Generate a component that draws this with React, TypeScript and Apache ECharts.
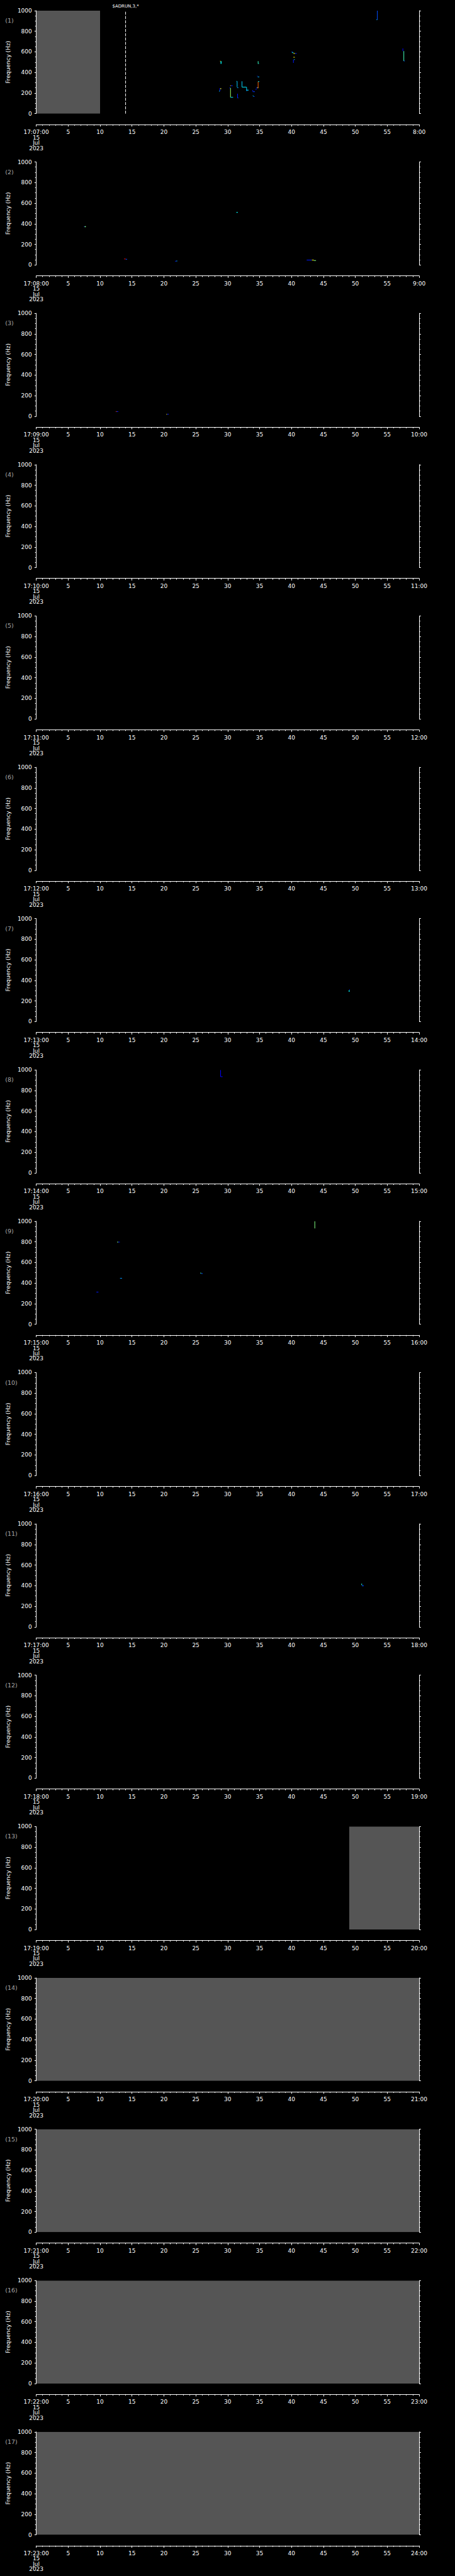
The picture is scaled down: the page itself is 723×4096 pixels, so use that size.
import React, { useEffect, useRef } from 'react';
import * as echarts from 'echarts';

// ---------- scale & layout (reference pixels * S) ----------
const S = 0.705;
const PAGE_W = 723;
const PAGE_H = 4096;
const PLOT_LEFT = 80.7;
const PLOT_W = 864;
const PLOT_TOP = 24;
const PLOT_H = 232.3;
const PANEL_PITCH = 341.3;
const X_AXIS_OFFSET = 24.4;
const FONT = 'DejaVu Sans';

// ---------- axes content ----------
const PANEL_COUNT = 17;
const START_HOUR = 17;
const START_MINUTE = 7;
const DATE_LINES = ['15', 'Jul', '2023'];
const X_MIN = 0;
const X_MAX = 60;
const X_STEP = 5;
const Y_MIN = 0;
const Y_MAX = 1000;
const Y_STEP = 200;
const Y_NAME = 'Frequency (Hz)';

// ---------- data: [tStart s, tEnd s, fLow Hz, fHigh Hz, intensity 0..1] ----------
const panel1Traces = [
  [28.89, 29.03, 483, 509, 0.375],
  [28.85, 28.93, 509, 509, 0.625],
  [28.77, 28.77, 218, 247, 0.15],
  [28.85, 28.98, 238, 247, 0.625],
  [28.65, 28.75, 218, 218, 0.375],
  [30.44, 30.44, 159, 250, 0.53],
  [30.28, 30.44, 250, 250, 0.15],
  [30.44, 30.85, 159, 159, 0.35],
  [30.39, 30.5, 271, 271, 0.625],
  [30.5, 30.78, 271, 271, 0.15],
  [31.48, 31.48, 257, 314, 0.32],
  [31.41, 31.48, 314, 314, 0.32],
  [31.48, 31.67, 252, 252, 0.28],
  [31.55, 31.55, 153, 194, 0.15],
  [31.55, 31.67, 153, 153, 0.2],
  [32.24, 32.24, 257, 314, 0.33],
  [32.24, 32.94, 257, 257, 0.36],
  [32.96, 32.96, 221, 257, 0.33],
  [32.96, 33.28, 228, 228, 0.36],
  [32.96, 33.1, 221, 224, 0.22],
  [33.93, 33.93, 216, 228, 0.15],
  [33.93, 34.26, 213, 213, 0.18],
  [33.98, 34.05, 170, 173, 0.375],
  [34.02, 34.2, 163, 166, 0.2],
  [34.45, 34.45, 231, 243, 0.15],
  [34.55, 34.55, 245, 254, 0.15],
  [34.55, 34.67, 254, 254, 0.2],
  [34.77, 34.77, 248, 311, 0.78],
  [34.77, 34.95, 311, 311, 0.375],
  [34.65, 34.77, 250, 250, 0.625],
  [34.6, 34.7, 364, 364, 0.15],
  [34.7, 34.95, 357, 357, 0.3],
  [34.77, 34.77, 483, 509, 0.44],
  [34.85, 34.9, 486, 486, 0.375],
  [40.0, 40.2, 598, 598, 0.2],
  [40.1, 40.3, 592, 592, 0.4],
  [40.3, 40.55, 585, 585, 0.625],
  [40.55, 40.81, 585, 585, 0.15],
  [40.3, 40.51, 547, 547, 0.625],
  [40.4, 40.51, 525, 525, 0.375],
  [40.3, 40.3, 493, 525, 0.15],
  [53.45, 53.45, 913, 1000, 0.2],
  [53.3, 53.45, 913, 913, 0.3],
  [57.45, 57.5, 607, 633, 0.125],
  [57.6, 57.6, 511, 607, 0.44],
  [57.6, 57.75, 505, 511, 0.2],
];
const panel2Traces = [
  [7.48, 7.6, 372, 372, 0.15],
  [7.6, 7.78, 372, 372, 0.5],
  [7.66, 7.66, 366, 378, 0.5],
  [13.77, 14.0, 58, 58, 0.87],
  [14.0, 14.24, 55, 55, 0.2],
  [21.76, 21.95, 37, 37, 0.15],
  [21.95, 22.1, 38, 38, 0.3],
  [31.35, 31.6, 510, 510, 0.375],
  [42.38, 43.2, 48, 48, 0.15],
  [43.2, 43.5, 47, 47, 0.625],
  [43.5, 43.84, 43, 43, 0.5],
];
const panel3Traces = [
  [12.47, 12.6, 46, 46, 0.8],
  [12.6, 12.86, 46, 46, 0.15],
  [20.38, 20.5, 20, 20, 0.625],
  [20.5, 20.76, 20, 20, 0.15],
];
const panel7Traces = [
  [49.1, 49.19, 305, 309, 0.15],
  [48.97, 49.1, 290, 305, 0.375],
];
const panel8Traces = [
  [28.89, 28.89, 935, 1000, 0.125],
  [28.89, 29.2, 935, 935, 0.125],
];
const panel9Traces = [
  [43.65, 43.65, 931, 1000, 0.5],
  [12.67, 12.85, 798, 798, 0.5],
  [12.85, 13.09, 798, 798, 0.15],
  [25.69, 25.85, 494, 497, 0.44],
  [25.85, 26.08, 493, 493, 0.2],
  [13.13, 13.44, 442, 446, 0.27],
  [9.43, 9.74, 312, 312, 0.15],
];
const panel11Traces = [
  [51.0, 51.08, 405, 420, 0.4],
  [51.08, 51.28, 394, 405, 0.2],
];
const tracesByPanel: Record<number, number[][]> = {
  1: panel1Traces,
  2: panel2Traces,
  3: panel3Traces,
  7: panel7Traces,
  8: panel8Traces,
  9: panel9Traces,
  11: panel11Traces,
};

// no-data blocks: [panel, tStart, tEnd]
const grayBlocks = [
  [1, 0, 10],
  [13, 49, 60],
  [14, 0, 60],
  [15, 0, 60],
  [16, 0, 60],
  [17, 0, 60],
];

// command marker
const markerPanel = 1;
const markerTime = 14;
const markerText = '$ADRUN,3,*';

// ---------- colour map ----------
const JET: [number, number[]][] = [
  [0, [0, 0, 143]],
  [0.125, [0, 0, 255]],
  [0.375, [0, 255, 255]],
  [0.625, [255, 255, 0]],
  [0.875, [255, 0, 0]],
  [1, [128, 0, 0]],
];
function jet(v: number): string {
  const x = Math.max(0, Math.min(1, v));
  for (let i = 1; i < JET.length; i++) {
    const [p1, c1] = JET[i];
    const [p0, c0] = JET[i - 1];
    if (x <= p1) {
      const t = (x - p0) / (p1 - p0);
      const c = c0.map((a, j) => Math.round(a + (c1[j] - a) * t));
      return `rgb(${c[0]},${c[1]},${c[2]})`;
    }
  }
  return 'rgb(128,0,0)';
}

const pad = (n: number) => (n < 10 ? '0' + n : String(n));

function buildOption() {
  const grid: any[] = [];
  const xAxis: any[] = [];
  const yAxis: any[] = [];
  const series: any[] = [];
  const graphic: any[] = [];
  const white = '#ffffff';

  for (let i = 0; i < PANEL_COUNT; i++) {
    const k = i + 1;
    const minute = START_MINUTE + i;
    const top = (PLOT_TOP + i * PANEL_PITCH) * S;
    grid.push({ left: PLOT_LEFT * S, top, width: PLOT_W * S, height: PLOT_H * S });

    xAxis.push({
      gridIndex: i,
      type: 'value',
      min: X_MIN,
      max: X_MAX,
      interval: X_STEP,
      position: 'bottom',
      offset: X_AXIS_OFFSET * S,
      axisLine: { show: true, onZero: false, lineStyle: { color: white, width: 1 } },
      axisTick: { show: true, length: 4.7 * S, lineStyle: { color: white, width: 1 } },
      minorTick: { show: true, splitNumber: 5, length: 2.7 * S, lineStyle: { color: white, width: 1 } },
      splitLine: { show: false },
      minorSplitLine: { show: false },
      axisLabel: {
        color: white,
        fontFamily: FONT,
        fontSize: 9,
        lineHeight: 12 * S,
        margin: 8,
        showMinLabel: true,
        showMaxLabel: true,
        formatter: (v: number) => {
          if (v === X_MIN) return [`${START_HOUR}:${pad(minute)}:00`, ...DATE_LINES].join('\n');
          if (v === X_MAX) return `${minute + 1}:00`;
          return String(v);
        },
      },
    });

    yAxis.push({
      gridIndex: i,
      type: 'value',
      min: Y_MIN,
      max: Y_MAX,
      interval: Y_STEP,
      position: 'left',
      name: Y_NAME,
      nameLocation: 'middle',
      nameGap: 35,
      nameTextStyle: { color: white, fontFamily: FONT, fontSize: 9 },
      axisLine: { show: true, onZero: false, lineStyle: { color: white, width: 1 } },
      axisTick: { show: true, length: 4 * S, lineStyle: { color: white, width: 1 } },
      minorTick: { show: true, splitNumber: 4, length: 2.7 * S, lineStyle: { color: white, width: 1 } },
      splitLine: { show: false },
      axisLabel: {
        color: white,
        fontFamily: FONT,
        fontSize: 9,
        margin: 6.8,
        formatter: (v: number) => String(v),
      },
    });
    yAxis.push({
      gridIndex: i,
      type: 'value',
      min: Y_MIN,
      max: Y_MAX,
      interval: Y_STEP,
      position: 'right',
      axisLine: { show: true, onZero: false, lineStyle: { color: white, width: 1 } },
      axisTick: { show: true, length: 4 * S, lineStyle: { color: white, width: 1 } },
      minorTick: { show: true, splitNumber: 4, length: 2.7 * S, lineStyle: { color: white, width: 1 } },
      splitLine: { show: false },
      axisLabel: { show: false },
    });

    // gray no-data blocks
    const blocks = grayBlocks.filter((b) => b[0] === k).map((b) => [b[1], b[2], Y_MIN, Y_MAX]);
    if (blocks.length) {
      series.push({
        type: 'custom',
        xAxisIndex: i,
        yAxisIndex: i * 2,
        clip: true,
        silent: true,
        data: blocks,
        encode: { x: [0, 1], y: [2, 3] },
        renderItem: (_p: any, api: any) => {
          const a = api.coord([api.value(0), api.value(3)]);
          const b = api.coord([api.value(1), api.value(2)]);
          return {
            type: 'rect',
            shape: { x: a[0] + 0.5, y: a[1], width: b[0] - a[0] - 0.5, height: b[1] - a[1] },
            style: { fill: '#555555' },
          };
        },
      });
    }

    // spectrogram traces
    const tr = tracesByPanel[k];
    if (tr) {
      series.push({
        type: 'custom',
        xAxisIndex: i,
        yAxisIndex: i * 2,
        clip: true,
        silent: true,
        data: tr,
        encode: { x: [0, 1], y: [2, 3] },
        renderItem: (_p: any, api: any) => {
          const a = api.coord([api.value(0), api.value(3)]);
          const b = api.coord([api.value(1), api.value(2)]);
          const w = Math.max(b[0] - a[0], 1);
          const h = Math.max(b[1] - a[1], 1);
          return {
            type: 'rect',
            shape: { x: a[0] - (b[0] - a[0] < 1 ? 0.5 : 0), y: a[1] - (b[1] - a[1] < 1 ? 0.5 : 0), width: w, height: h },
            style: { fill: jet(api.value(4)) },
          };
        },
      });
    }

    // command marker line
    if (k === markerPanel) {
      series.push({
        type: 'line',
        xAxisIndex: i,
        yAxisIndex: i * 2,
        clip: false,
        silent: true,
        symbol: 'circle',
        symbolSize: 0,
        showSymbol: true,
        lineStyle: { color: white, width: 1, type: [6.7 * S, 3 * S] },
        data: [
          { value: [markerTime, Y_MIN] },
          {
            value: [markerTime, Y_MAX],
            label: {
              show: true,
              position: 'top',
              distance: 3,
              formatter: markerText,
              color: white,
              fontFamily: FONT,
              fontSize: 7,
            },
          },
        ],
      });
    }

    graphic.push({
      type: 'text',
      left: 11.7 * S,
      top: (39 + i * PANEL_PITCH) * S,
      silent: true,
      style: { text: `(${k})`, fill: '#a8a8a8', font: `9.5px "${FONT}"` },
    });
  }

  return {
    animation: false,
    backgroundColor: '#000000',
    grid,
    xAxis,
    yAxis,
    series,
    graphic,
  };
}

export default function App() {
  const ref = useRef<HTMLDivElement>(null);
  useEffect(() => {
    document.body.style.margin = '0';
    document.body.style.background = '#000';
    if (!ref.current) return;
    const chart = echarts.init(ref.current, undefined, { renderer: 'svg' });
    chart.setOption(buildOption() as any);
    return () => chart.dispose();
  }, []);
  return <div ref={ref} style={{ width: PAGE_W, height: PAGE_H, background: '#000' }} />;
}
